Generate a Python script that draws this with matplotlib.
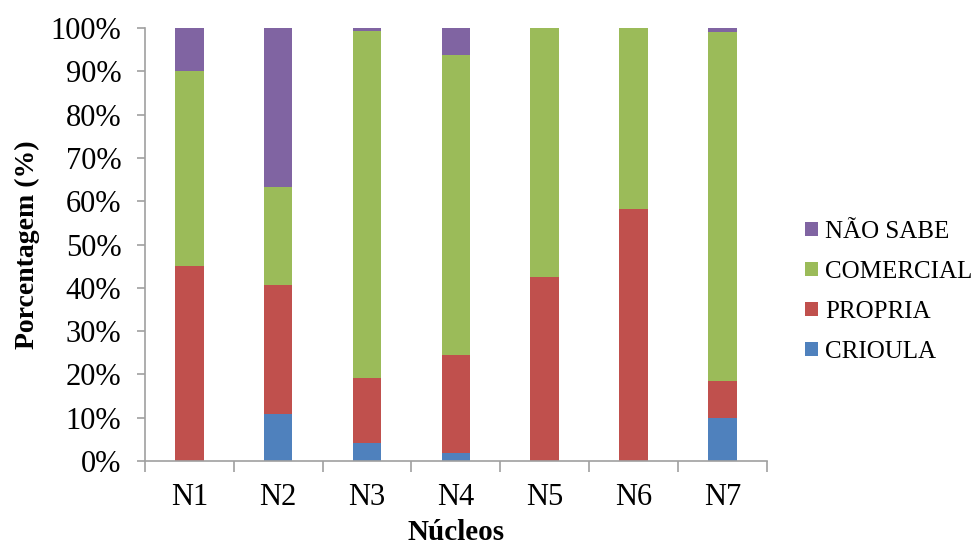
import numpy as np
import matplotlib.pyplot as plt

plt.rcParams['font.family'] = ['Liberation Serif', 'DejaVu Serif']

nucleos = ['N1', 'N2', 'N3', 'N4', 'N5', 'N6', 'N7']
crioula = [0.0, 10.8, 4.1, 1.8, 0.0, 0.0, 10.0]
propria = [45.0, 29.8, 15.1, 22.8, 42.4, 58.3, 8.4]
comercial = [45.0, 22.6, 80.0, 69.1, 57.6, 41.7, 80.7]
nao_sabe = [10.0, 36.8, 0.8, 6.3, 0.0, 0.0, 0.9]

series = [('CRIOULA', crioula, '#4F81BD'),
          ('PROPRIA', propria, '#C0504D'),
          ('COMERCIAL', comercial, '#9BBB59'),
          ('NÃO SABE', nao_sabe, '#8064A2')]

fig = plt.figure(figsize=(9.73, 5.47), dpi=100)
ax = fig.add_axes([0.149, 0.157, 0.639, 0.792])

x = np.arange(len(nucleos))
bottom = np.zeros(len(nucleos))
for label, vals, color in series:
    vals = np.array(vals)
    ax.bar(x, vals, width=0.32, bottom=bottom, color=color, label=label)
    bottom += vals

ax.set_xlim(-0.5, len(nucleos) - 0.5)
ax.set_ylim(0, 100)
ax.set_yticks(np.arange(0, 101, 10))
ax.set_yticklabels([f'{v}%' for v in range(0, 101, 10)])
ax.set_xticks(x)
ax.set_xticklabels(nucleos)
ax.set_xticks(np.arange(-0.5, len(nucleos), 1), minor=True)

for side in ['top', 'right']:
    ax.spines[side].set_visible(False)
for side in ['left', 'bottom']:
    ax.spines[side].set_color('#A0A0A0')
    ax.spines[side].set_linewidth(1.2)

ax.tick_params(axis='y', labelsize=22, color='#A0A0A0', length=6, width=1.2, pad=11)
ax.tick_params(axis='x', which='major', labelsize=22, length=0, pad=16)
ax.tick_params(axis='x', which='minor', color='#A0A0A0', length=8, width=1.2)

ax.set_ylabel('Porcentagem (%)', fontsize=20, fontweight='bold', labelpad=8)
ax.set_xlabel('Núcleos', fontsize=21, fontweight='bold', labelpad=5)

handles, labels = ax.get_legend_handles_labels()
ax.legend(handles[::-1], labels[::-1], loc='center left', bbox_to_anchor=(1.026, 0.39),
          frameon=False, fontsize=18, handlelength=0.5, handleheight=0.5,
          handletextpad=0.3, labelspacing=0.72)

fig.savefig('out.png', dpi=100)
